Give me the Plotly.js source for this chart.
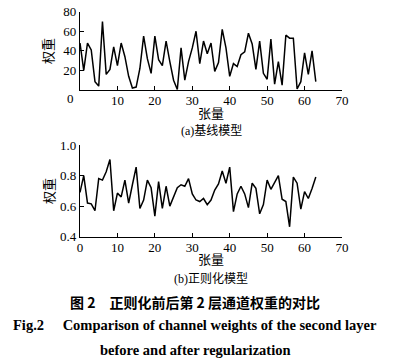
<!DOCTYPE html>
<html>
<head>
<meta charset="utf-8">
<script src="https://cdn.plot.ly/plotly-3.0.1.min.js"></script>
<style>html,body{margin:0;padding:0;background:#fff;}#chart{width:398px;height:364px;}</style>
</head>
<body>
<div id="chart"></div>
<script>
// Channel (tensor) index 0..63
const channelIndex = Array.from({length: 64}, (_, i) => i);

// (a) Baseline model weights
const baselineWeights = [48,20,48,41,8.5,4,70,16,21,44,25,48,34,14,2,3,22,55,32,17,
  55,31,25,50,29,10,0.5,43,10,29,43,60,27,50,37,48,19,28,62,43,
  14,27,24,36,39,58,47,21,50,17,11,52,6,29,5,56,53,53,1,8.5,
  38,16,40,8.5];

// (b) Regularized model weights
const regularizedWeights = [0.69,0.80,0.62,0.615,0.57,0.78,0.77,0.825,0.905,0.57,
  0.685,0.66,0.77,0.62,0.74,0.855,0.585,0.64,0.77,0.72,
  0.535,0.76,0.585,0.73,0.60,0.66,0.72,0.74,0.73,0.78,
  0.68,0.64,0.63,0.65,0.61,0.64,0.705,0.745,0.83,0.75,
  0.855,0.564,0.68,0.73,0.68,0.59,0.75,0.716,0.55,0.61,
  0.77,0.71,0.76,0.80,0.645,0.63,0.465,0.79,0.75,0.58,
  0.695,0.65,0.716,0.79];

const xTicksTop = [10,20,30,40,50,60,70];
const yTicksTop = [20,40,60,80];
const xTicksBottom = [0,10,20,30,40,50,60,70];
const yTicksBottom = [0.4,0.6,0.8,1.0];
const yTickTextBottom = ['0.4','0.6','0.8','1.0'];

const xTitle = '张量';
const yTitle = '权重';
const subTitleA = ['(a)', '基线模型'];
const subTitleB = ['(b)', '正则化模型'];
const captionCN = '图 2　正则化前后第 2 层通道权重的对比';
const captionEN1 = 'Fig.2　 Comparison of channel weights of the second layer';
const captionEN2 = 'before and after regularization';

const serif = 'Liberation Serif, Times New Roman, serif';
const cjk = 'Noto Sans CJK SC, sans-serif';
const tickFont = {family: serif, size: 13, color: '#000'};

const axisCommon = {
  showline: true, linecolor: '#000', linewidth: 1.2,
  ticks: 'inside', ticklen: 4, tickwidth: 1.2, tickcolor: '#000',
  showgrid: false, zeroline: false, tickfont: tickFont, mirror: false
};

const traces = [
  {x: channelIndex, y: baselineWeights, xaxis: 'x', yaxis: 'y', mode: 'lines',
   line: {color: '#000', width: 1.5}, hoverinfo: 'skip'},
  {x: channelIndex, y: regularizedWeights, xaxis: 'x2', yaxis: 'y2', mode: 'lines',
   line: {color: '#000', width: 1.5}, hoverinfo: 'skip'}
];

function sub(parts) {
  return '<span style="font-family:Liberation Serif">' + parts[0] + '</span>' + parts[1];
}

const xd = [80/398, 342/398];
const layout = {
  width: 398, height: 364,
  margin: {l: 0, r: 0, t: 0, b: 0},
  paper_bgcolor: '#fff', plot_bgcolor: '#fff',
  showlegend: false,
  xaxis: Object.assign({}, axisCommon, {domain: xd, range: [0, 70], tickvals: xTicksTop, anchor: 'y', ticklabelstandoff: -2}),
  yaxis: Object.assign({}, axisCommon, {domain: [(364-90)/364, (364-11.7)/364], range: [0, 80], tickvals: yTicksTop, anchor: 'x'}),
  xaxis2: Object.assign({}, axisCommon, {domain: xd, range: [0, 70], tickvals: xTicksBottom, anchor: 'y2', ticklabelstandoff: -2}),
  yaxis2: Object.assign({}, axisCommon, {domain: [(364-236.7)/364, (364-145)/364], range: [0.4, 1.0], tickvals: yTicksBottom, ticktext: yTickTextBottom, anchor: 'x2'}),
  annotations: [
    {text: '0', xref: 'paper', yref: 'paper', x: 70/398, y: (364-98)/364, showarrow: false, font: tickFont, xanchor: 'center', yanchor: 'middle'},
    {text: yTitle, xref: 'paper', yref: 'paper', x: 48/398, y: (364-51)/364, showarrow: false, textangle: -90, font: {family: cjk, size: 13, color: '#000'}, xanchor: 'center', yanchor: 'middle'},
    {text: xTitle, xref: 'paper', yref: 'paper', x: 211/398, y: (364-112)/364, showarrow: false, font: {family: cjk, size: 13, color: '#000'}, xanchor: 'center', yanchor: 'middle'},
    {text: sub(subTitleA), xref: 'paper', yref: 'paper', x: 211/398, y: (364-129)/364, showarrow: false, font: {family: cjk, size: 12, color: '#000'}, xanchor: 'center', yanchor: 'middle'},
    {text: yTitle, xref: 'paper', yref: 'paper', x: 48/398, y: (364-191)/364, showarrow: false, textangle: -90, font: {family: cjk, size: 13, color: '#000'}, xanchor: 'center', yanchor: 'middle'},
    {text: xTitle, xref: 'paper', yref: 'paper', x: 211/398, y: (364-258)/364, showarrow: false, font: {family: cjk, size: 13, color: '#000'}, xanchor: 'center', yanchor: 'middle'},
    {text: sub(subTitleB), xref: 'paper', yref: 'paper', x: 211/398, y: (364-277)/364, showarrow: false, font: {family: cjk, size: 12, color: '#000'}, xanchor: 'center', yanchor: 'middle'},
    {text: '<b>' + captionCN + '</b>', xref: 'paper', yref: 'paper', x: 195/398, y: (364-302)/364, showarrow: false, font: {family: cjk, size: 14, color: '#000'}, xanchor: 'center', yanchor: 'middle'},
    {text: '<b>' + captionEN1 + '</b>', xref: 'paper', yref: 'paper', x: 195/398, y: (364-325)/364, showarrow: false, font: {family: serif, size: 14.5, color: '#000'}, xanchor: 'center', yanchor: 'middle'},
    {text: '<b>' + captionEN2 + '</b>', xref: 'paper', yref: 'paper', x: 195/398, y: (364-350)/364, showarrow: false, font: {family: serif, size: 14.5, color: '#000'}, xanchor: 'center', yanchor: 'middle'}
  ]
};

Plotly.newPlot('chart', traces, layout, {staticPlot: true, displayModeBar: false});
</script>
</body>
</html>
